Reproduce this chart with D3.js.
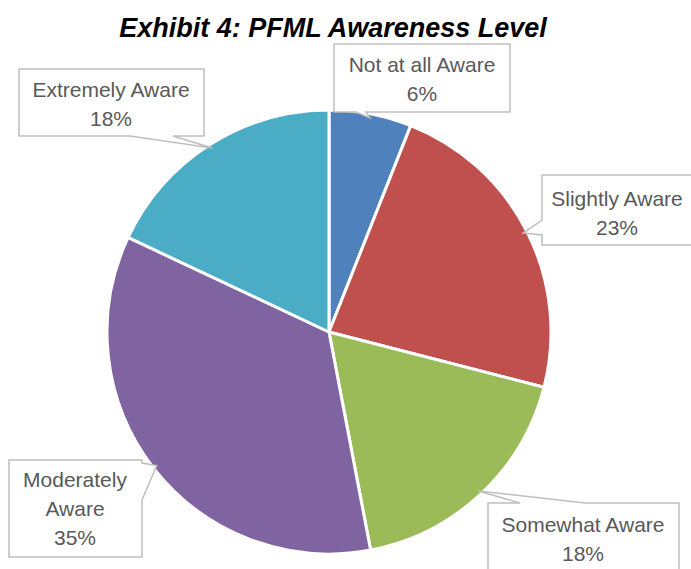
<!DOCTYPE html>
<html>
<head>
<meta charset="utf-8">
<script src="https://cdn.jsdelivr.net/npm/d3@7"></script>
<style>
  body { margin: 0; background: #fff; }
  svg { display: block; }
</style>
</head>
<body>
<div id="chart"></div>
<script>
// data
const levels = ["Not at all Aware", "Slightly Aware", "Somewhat Aware", "Moderately Aware", "Extremely Aware"];
const shares = [6, 23, 18, 35, 18];
const colors = ["#4f81bd", "#c0504d", "#9bbb59", "#8064a2", "#4bacc6"];

// svg set up
let svgWidth = 691;
let svgHeight = 569;
let cx = 329, cy = 332, radius = 222;

let svg = d3.select("#chart")
    .append("svg")
    .attr("width", svgWidth)
    .attr("height", svgHeight);

// title
svg.append("text")
    .attr("x", 333)
    .attr("y", 37)
    .attr("text-anchor", "middle")
    .attr("font-family", "Liberation Sans, Arial, sans-serif")
    .attr("font-size", "27px")
    .attr("font-weight", "bold")
    .attr("font-style", "italic")
    .attr("fill", "#000")
    .text("Exhibit 4: PFML Awareness Level");

let pieGroup = svg.append("g")
    .attr("transform", `translate(${cx},${cy})`);

let pie = d3.pie().sort(null).value(d => d.value);
let arc = d3.arc().innerRadius(0).outerRadius(radius);
let tipArc = d3.arc().innerRadius(radius * 2 - 4).outerRadius(-4); // centroid lands on rim

let slices = pie(levels.map((l, i) => ({ label: l, value: shares[i], color: colors[i] })));

pieGroup.selectAll("path")
    .data(slices)
    .enter()
    .append("path")
    .attr("d", arc)
    .attr("fill", d => d.data.color)
    .attr("stroke", "#fff")
    .attr("stroke-width", 3)
    .attr("stroke-linejoin", "round");

// callout boxes: x, y, w, h, side of tail, tail base start/end along that side,
// text centre and first baseline
let callouts = [
    { x: 334, y: 44, w: 176, h: 68, side: "bottom", a: 356, b: 366, split: false, tx: 422, ty: 72 },
    { x: 542, y: 175, w: 160, h: 70, side: "left", a: 220, b: 235, split: false, tx: 617, ty: 206 },
    { x: 488, y: 503, w: 191, h: 80, side: "top", a: 520, b: 585, split: false, tx: 583, ty: 532 },
    { x: 9, y: 460, w: 133, h: 97, side: "right", a: 463, b: 500, split: true, tx: 75, ty: 487 },
    { x: 19, y: 69, w: 185, h: 67, side: "bottom", a: 130, b: 173, split: false, tx: 111, ty: 97 }
];

function calloutPath(c, tip) {
    let x0 = c.x, y0 = c.y, x1 = c.x + c.w, y1 = c.y + c.h;
    let p = [];
    p.push([x0, y0]);
    if (c.side === "top") { p.push([c.a, y0], tip, [c.b, y0]); }
    p.push([x1, y0]);
    if (c.side === "right") { p.push([x1, c.a], tip, [x1, c.b]); }
    p.push([x1, y1]);
    if (c.side === "bottom") { p.push([c.b, y1], tip, [c.a, y1]); }
    p.push([x0, y1]);
    if (c.side === "left") { p.push([x0, c.b], tip, [x0, c.a]); }
    return "M" + p.map(q => q.join(",")).join("L") + "Z";
}

let labelGroup = svg.append("g");

slices.forEach((d, i) => {
    let c = callouts[i];
    let t = tipArc.centroid(d);
    let tip = [t[0] + cx, t[1] + cy];
    labelGroup.append("path")
        .attr("d", calloutPath(c, tip))
        .attr("fill", "#fff")
        .attr("stroke", "#bfbfbf")
        .attr("stroke-width", 1.5);

    let rows = (c.split ? d.data.label.split(" ") : [d.data.label]).concat([d.data.value + "%"]);
    let txt = labelGroup.append("text")
        .attr("text-anchor", "middle")
        .attr("font-family", "Liberation Sans, Arial, sans-serif")
        .attr("font-size", "21px")
        .attr("fill", "#595959");
    rows.forEach((r, k) => {
        txt.append("tspan")
            .attr("x", c.tx)
            .attr("y", c.ty + k * 29)
            .text(r);
    });
});
</script>
</body>
</html>
